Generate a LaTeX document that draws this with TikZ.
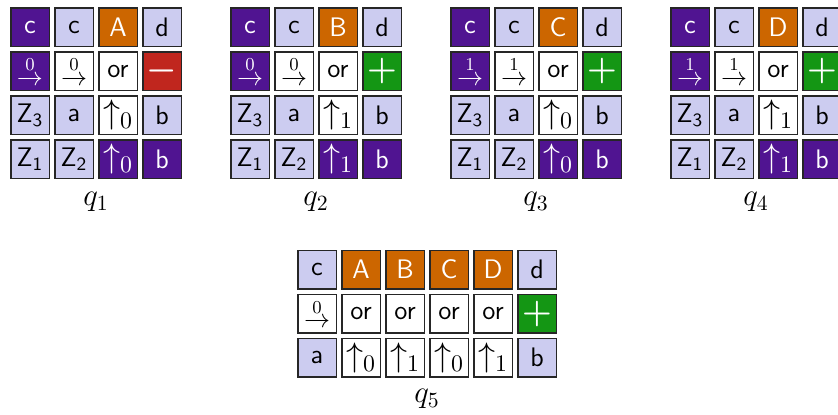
\RequirePackage{fix-cm}
\documentclass[tikz,border=0pt]{standalone}
\usepackage{amsmath}
\definecolor{cpurple}{RGB}{80,20,145}
\definecolor{clav}{RGB}{204,204,240}
\definecolor{corange}{RGB}{204,102,0}
\definecolor{cred}{RGB}{192,38,30}
\definecolor{cgreen}{RGB}{20,150,20}
\newcommand{\fsz}{\fontsize{13.4}{15}\selectfont}
\newcommand{\farr}{\fontsize{13}{15}\selectfont}
\newcommand{\fbig}{\fontsize{17}{19}\selectfont}
\newcommand{\flab}{\fontsize{15.5}{17}\selectfont}
\newcommand{\zs}[1]{Z$_{\textsf{#1}}$}
\newcommand{\upa}[1]{{\fbig$\uparrow_{#1}$}}
\newcommand{\rta}[1]{{\farr$\stackrel{#1}{\rightarrow}$}}
\newcommand{\plussign}{{\fbig\boldmath$+$}}
\newcommand{\minussign}{{\fbig\boldmath$-$}}
\tikzset{
  cell/.style={draw=black!85,line width=0.75pt,minimum size=19.25pt,inner sep=0pt,font=\fsz\sffamily},
  pc/.style={cell,fill=cpurple,text=white},
  lc/.style={cell,fill=clav,text=black},
  wc/.style={cell,fill=white,text=black},
  oc/.style={cell,fill=corange,text=white},
  rc/.style={cell,fill=cred,text=white},
  gc/.style={cell,fill=cgreen,text=white},
  qlabel/.style={font=\flab,inner sep=0pt}
}
\newcommand{\cl}[5]{\node[#4] (#1) at (#2,#3) {#5};}
\begin{document}
\begin{tikzpicture}[x=0.5pt,y=-0.5pt]
\useasboundingbox (0,0) rectangle (838,414);
% ---------- q1 ----------
\cl{a11}{30}{27}{pc}{c}
\cl{a12}{74}{27}{lc}{c}
\cl{a13}{118}{27}{oc}{A}
\cl{a14}{162}{27}{lc}{d}
\cl{a21}{30}{71}{pc}{\rta{0}}
\cl{a22}{74}{71}{wc}{\rta{0}}
\cl{a23}{118}{71}{wc}{or}
\cl{a24}{162}{71}{rc}{\minussign}
\cl{a31}{30}{115}{lc}{\zs{3}}
\cl{a32}{74}{115}{lc}{a}
\cl{a33}{118}{115}{wc}{\upa{0}}
\cl{a34}{162}{115}{lc}{b}
\cl{a41}{30}{159}{lc}{\zs{1}}
\cl{a42}{74}{159}{lc}{\zs{2}}
\cl{a43}{118}{159}{pc}{\upa{0}}
\cl{a44}{162}{159}{pc}{b}
\node[qlabel] (q1) at (96,202) {$q_1$};
% ---------- q2 ----------
\cl{b11}{250}{27}{pc}{c}
\cl{b12}{294}{27}{lc}{c}
\cl{b13}{338}{27}{oc}{B}
\cl{b14}{382}{27}{lc}{d}
\cl{b21}{250}{71}{pc}{\rta{0}}
\cl{b22}{294}{71}{wc}{\rta{0}}
\cl{b23}{338}{71}{wc}{or}
\cl{b24}{382}{71}{gc}{\plussign}
\cl{b31}{250}{115}{lc}{\zs{3}}
\cl{b32}{294}{115}{lc}{a}
\cl{b33}{338}{115}{wc}{\upa{1}}
\cl{b34}{382}{115}{lc}{b}
\cl{b41}{250}{159}{lc}{\zs{1}}
\cl{b42}{294}{159}{lc}{\zs{2}}
\cl{b43}{338}{159}{pc}{\upa{1}}
\cl{b44}{382}{159}{pc}{b}
\node[qlabel] (q2) at (316,202) {$q_2$};
% ---------- q3 ----------
\cl{c11}{470}{27}{pc}{c}
\cl{c12}{514}{27}{lc}{c}
\cl{c13}{558}{27}{oc}{C}
\cl{c14}{602}{27}{lc}{d}
\cl{c21}{470}{71}{pc}{\rta{1}}
\cl{c22}{514}{71}{wc}{\rta{1}}
\cl{c23}{558}{71}{wc}{or}
\cl{c24}{602}{71}{gc}{\plussign}
\cl{c31}{470}{115}{lc}{\zs{3}}
\cl{c32}{514}{115}{lc}{a}
\cl{c33}{558}{115}{wc}{\upa{0}}
\cl{c34}{602}{115}{lc}{b}
\cl{c41}{470}{159}{lc}{\zs{1}}
\cl{c42}{514}{159}{lc}{\zs{2}}
\cl{c43}{558}{159}{pc}{\upa{0}}
\cl{c44}{602}{159}{pc}{b}
\node[qlabel] (q3) at (536,202) {$q_3$};
% ---------- q4 ----------
\cl{d11}{690}{27}{pc}{c}
\cl{d12}{734}{27}{lc}{c}
\cl{d13}{778}{27}{oc}{D}
\cl{d14}{822}{27}{lc}{d}
\cl{d21}{690}{71}{pc}{\rta{1}}
\cl{d22}{734}{71}{wc}{\rta{1}}
\cl{d23}{778}{71}{wc}{or}
\cl{d24}{822}{71}{gc}{\plussign}
\cl{d31}{690}{115}{lc}{\zs{3}}
\cl{d32}{734}{115}{lc}{a}
\cl{d33}{778}{115}{wc}{\upa{1}}
\cl{d34}{822}{115}{lc}{b}
\cl{d41}{690}{159}{lc}{\zs{1}}
\cl{d42}{734}{159}{lc}{\zs{2}}
\cl{d43}{778}{159}{pc}{\upa{1}}
\cl{d44}{822}{159}{pc}{b}
\node[qlabel] (q4) at (756,202) {$q_4$};
% ---------- q5 ----------
\cl{e11}{317}{269.5}{lc}{c}
\cl{e12}{361}{269.5}{oc}{A}
\cl{e13}{405}{269.5}{oc}{B}
\cl{e14}{449}{269.5}{oc}{C}
\cl{e15}{493}{269.5}{oc}{D}
\cl{e16}{537}{269.5}{lc}{d}
\cl{e21}{317}{313.5}{wc}{\rta{0}}
\cl{e22}{361}{313.5}{wc}{or}
\cl{e23}{405}{313.5}{wc}{or}
\cl{e24}{449}{313.5}{wc}{or}
\cl{e25}{493}{313.5}{wc}{or}
\cl{e26}{537}{313.5}{gc}{\plussign}
\cl{e31}{317}{357.5}{lc}{a}
\cl{e32}{361}{357.5}{wc}{\upa{0}}
\cl{e33}{405}{357.5}{wc}{\upa{1}}
\cl{e34}{449}{357.5}{wc}{\upa{0}}
\cl{e35}{493}{357.5}{wc}{\upa{1}}
\cl{e36}{537}{357.5}{lc}{b}
\node[qlabel] (q5) at (427,399) {$q_5$};
\end{tikzpicture}
\end{document}
